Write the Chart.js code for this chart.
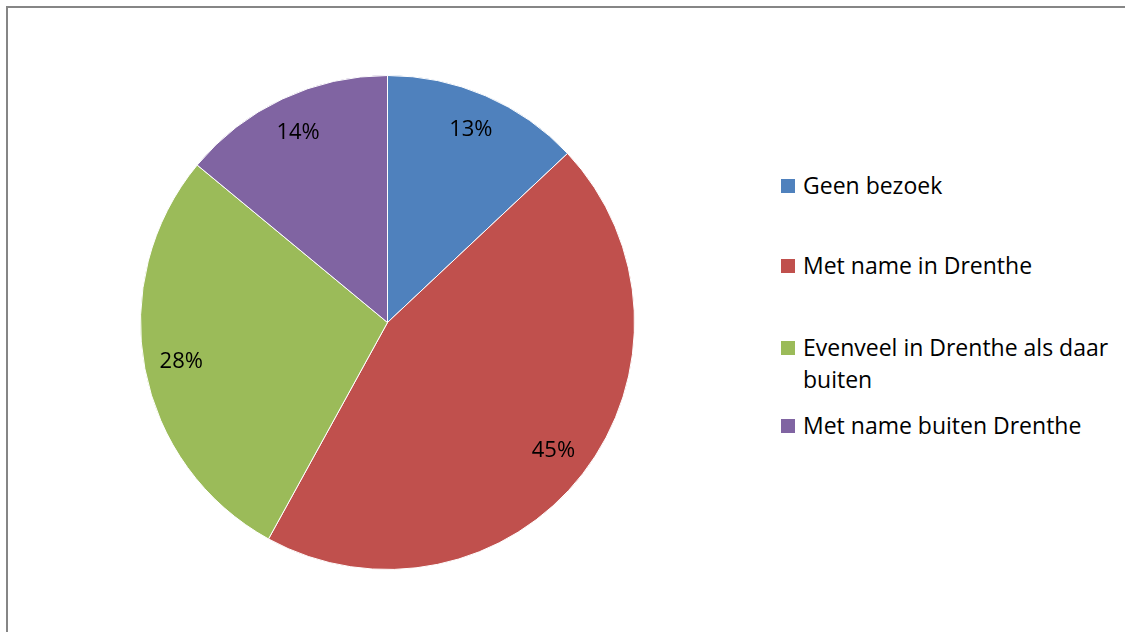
<!DOCTYPE html>
<html>
<head>
<meta charset="utf-8">
<script src="https://cdn.jsdelivr.net/npm/chart.js@4/dist/chart.umd.min.js"></script>
<style>
  html, body { margin: 0; padding: 0; background: #fff; width: 1125px; height: 632px; overflow: hidden; }
  #frame { position: absolute; left: 6px; top: 6px; width: 1125px; height: 640px; border-left: 2px solid #868686; border-top: 2px solid #868686; box-sizing: border-box; }
  #pieWrap { position: absolute; left: 140px; top: 75px; width: 495px; height: 495px; }
  .leg { position: absolute; left: 781px; font-family: "Open Sans", Lato, sans-serif; font-size: 23px; line-height: 32px; color: #000; }
  .leg .sw { position: absolute; left: 0; top: 10px; width: 14px; height: 14px; }
  .leg .tx { position: absolute; left: 22px; width: 335px; white-space: normal; }
</style>
</head>
<body>
<div id="frame"></div>
<div id="pieWrap"><canvas id="c"></canvas></div>
<div id="legend"></div>
<script>
const categories = ["Geen bezoek", "Met name in Drenthe", "Evenveel in Drenthe als daar buiten", "Met name buiten Drenthe"];
const values = [13, 45, 28, 14];
const colors = ["#4F81BD", "#C0504D", "#9BBB59", "#8064A2"];
const legendCenters = [186, 266, 348, 426];

const labelPlugin = {
  id: 'sliceLabels',
  afterDatasetsDraw(chart) {
    const ctx = chart.ctx;
    const meta = chart.getDatasetMeta(0);
    const ds = chart.data.datasets[0];
    ctx.save();
    ctx.font = '22px "Open Sans", Lato, sans-serif';
    ctx.fillStyle = '#000';
    ctx.textAlign = 'center';
    ctx.textBaseline = 'middle';
    meta.data.forEach((arc, i) => {
      const p = arc.getProps(['x', 'y', 'startAngle', 'endAngle', 'outerRadius'], true);
      const mid = (p.startAngle + p.endAngle) / 2;
      const r = p.outerRadius * 0.85;
      ctx.fillText(ds.data[i] + '%', p.x + Math.cos(mid) * r, p.y + Math.sin(mid) * r);
    });
    ctx.restore();
  }
};

new Chart(document.getElementById('c'), {
  type: 'pie',
  data: {
    labels: categories,
    datasets: [{ data: values, backgroundColor: colors, borderColor: '#ffffff', borderWidth: 1 }]
  },
  options: {
    responsive: true,
    maintainAspectRatio: false,
    animation: false,
    layout: { padding: 0 },
    plugins: { legend: { display: false }, tooltip: { enabled: false } }
  },
  plugins: [labelPlugin]
});

const legend = document.getElementById('legend');
categories.forEach((cat, i) => {
  const d = document.createElement('div');
  d.className = 'leg';
  d.style.top = (legendCenters[i] - 17) + 'px';
  const sw = document.createElement('div');
  sw.className = 'sw';
  sw.style.background = colors[i];
  const tx = document.createElement('div');
  tx.className = 'tx';
  tx.textContent = cat;
  d.appendChild(sw);
  d.appendChild(tx);
  legend.appendChild(d);
});
</script>
</body>
</html>
